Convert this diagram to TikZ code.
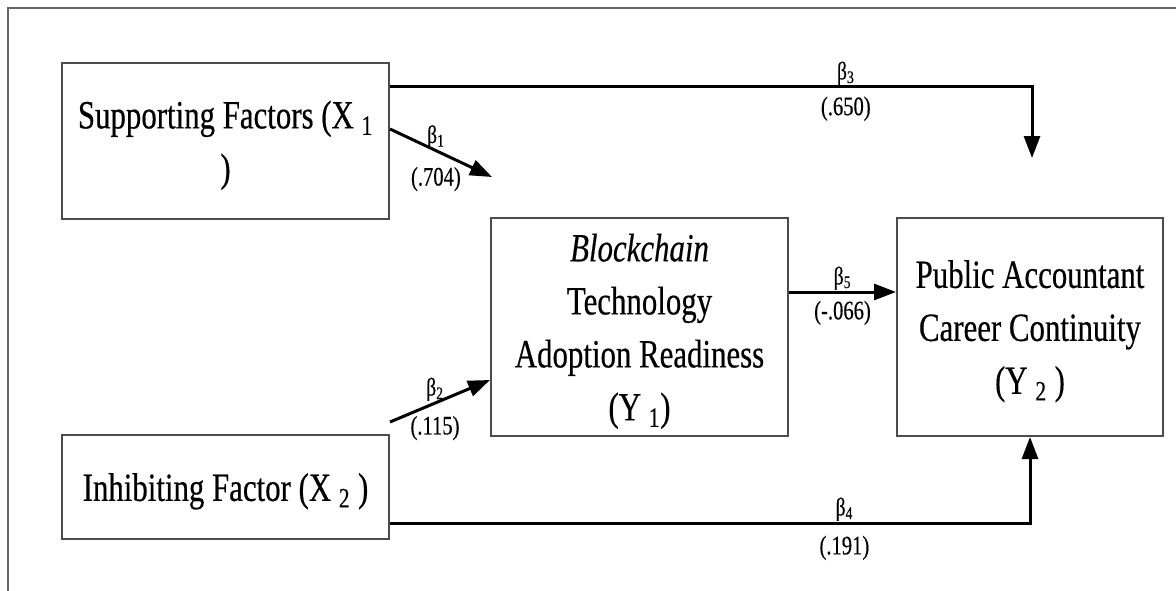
\documentclass[tikz,border=0pt]{standalone}
\usepackage{fontspec}
\setmainfont{Liberation Serif}[FakeStretch=0.77, FakeBold=0.4]
\usetikzlibrary{arrows.meta}

\begin{document}
\begin{tikzpicture}[x=0.25mm, y=-0.25mm,
      box/.style={draw=black!70, line width=0.5mm, align=center, inner sep=0pt,
        text depth=0pt, font=\fontsize{28.5}{37.7}\selectfont},
      path/.style={line width=0.75mm, -{Triangle[length=5.5mm, width=4mm]}},
      coef/.style={font=\fontsize{19}{22}\selectfont, inner sep=1.5pt},
      beta/.style={font=\fontsize{18}{20}\selectfont, inner sep=0.5pt}]
      \useasboundingbox (0,0) rectangle (1176,591);
      \draw[black!60, line width=0.5mm] (8,591) -- (8,8) -- (1176,8);

      % variables
      \node[box, minimum width=81.75mm, minimum height=39mm] (X1) at (225.5,141)
        {Supporting Factors (X \textsubscript{1}\\)};
      \node[box, minimum width=81.75mm, minimum height=26mm] (X2) at (225.5,487)
        {Inhibiting Factor (X \textsubscript{2} )};
      \node[box, minimum width=74.25mm, minimum height=54.5mm] (Y1) at (639.5,327)
        {\textit{Blockchain}\\Technology\\Adoption Readiness\\(Y \textsubscript{1})};
      \node[box, minimum width=66.5mm, minimum height=54.5mm] (Y2) at (1030,327)
        {Public Accountant\\Career Continuity\\(Y \textsubscript{2} )};

      % paths
      \coordinate (b1tip) at (492,177);
      \coordinate (b3tip) at (1032,158);
      \draw[path] ([yshift=3mm]X1.east) -- (b1tip)
        node[beta, pos=.45, above] {β\textsubscript{1}}
        node[coef, pos=.45, below=3.2mm] {(.704)};
      \draw[path] ([yshift=3mm]X2.north east) -- ([yshift=-13.25mm]Y1.west)
        node[beta, pos=.45, above] {β\textsubscript{2}}
        node[coef, pos=.45, below=2.3mm] {(.115)};
      \draw[path] ([yshift=13.5mm]X1.east) -| (b3tip)
        node[beta, pos=.355, above] {β\textsubscript{3}}
        node[coef, pos=.355, below=1.5mm] {(.650)};
      \draw[path] ([yshift=-9mm]X2.east) -| (Y2.south)
        node[beta, pos=.355, above] {β\textsubscript{4}}
        node[coef, pos=.355, below=2.3mm] {(.191)};
      \draw[path] ([yshift=8.75mm]Y1.east) -- ([yshift=8.75mm]Y2.west)
        node[beta, midway, above] {β\textsubscript{5}}
        node[coef, midway, below=1.3mm] {(-.066)};
\end{tikzpicture}
\end{document}
